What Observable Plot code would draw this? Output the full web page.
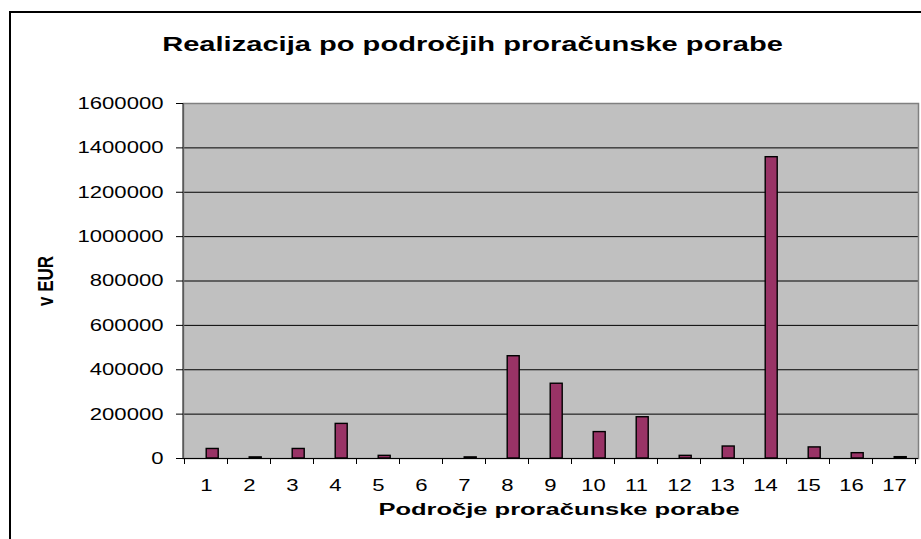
<!DOCTYPE html>
<html>
<head>
<meta charset="utf-8">
<script src="https://cdn.jsdelivr.net/npm/d3@7"></script>
<script src="https://cdn.jsdelivr.net/npm/@observablehq/plot@0.6"></script>
<style>
  html, body { margin: 0; padding: 0; background: #fff; overflow: hidden; }
  #wrap { position: relative; width: 921px; height: 539px; overflow: hidden; }
  #border { position: absolute; left: 9px; top: 11px; width: 1000px; height: 1000px; border: 2.5px solid #000; box-sizing: border-box; pointer-events: none; }
</style>
</head>
<body>
<div id="wrap"><div id="chart"></div><div id="border"></div></div>
<script>
const categories = ["1","2","3","4","5","6","7","8","9","10","11","12","13","14","15","16","17"];
const values = [43000, 5000, 43000, 156000, 12000, 0, 5000, 461000, 337000, 119000, 186000, 12000, 54000, 1358000, 50000, 24000, 6000];
const yTicks = [0, 200000, 400000, 600000, 800000, 1000000, 1200000, 1400000, 1600000];
const titleText = "Realizacija po področjih proračunske porabe";
const xTitle = "Področje proračunske porabe";
const yTitle = "v EUR";

const data = categories.map((c, i) => ({cat: c, value: values[i]}));
const gridTicks = yTicks.filter(t => t > 0 && t < d3.max(yTicks));

// boundary ticks between categories, derived from the band scale
function boundaryTicks(index, scales, values, dims) {
  const x = scales.x;
  const bw = typeof x.bandwidth === "function" ? x.bandwidth() : x.bandwidth;
  const step = x(categories[1]) - x(categories[0]);
  const off = (step - bw) / 2;
  const g = d3.create("svg:g").attr("stroke", "#000").attr("stroke-width", 1);
  const y0 = dims.height - dims.marginBottom;
  const xs = categories.map(c => x(c) - off);
  xs.push(x(categories[categories.length - 1]) - off + step);
  for (const xx of xs) {
    if (!isFinite(xx)) continue;
    g.append("line").attr("x1", xx).attr("x2", xx).attr("y1", y0).attr("y2", y0 + 6);
  }
  return g.node();
}
function leftAxisLine(index, scales, values, dims) {
  const g = d3.create("svg:g");
  const xx = dims.marginLeft;
  g.append("line").attr("x1", xx).attr("x2", xx)
    .attr("y1", dims.marginTop).attr("y2", dims.height - dims.marginBottom)
    .attr("stroke", "#404040").attr("stroke-width", 1.2);
  return g.node();
}

const chart = Plot.plot({
  width: 921,
  height: 539,
  marginLeft: 183,
  marginRight: 3,
  marginTop: 103,
  marginBottom: 81,
  style: {fontFamily: "'Liberation Sans', Arial, sans-serif", fontSize: "17px", background: "transparent", color: "#000"},
  x: {type: "band", domain: categories, paddingInner: 0.716, paddingOuter: 0.358, label: null},
  y: {domain: [0, d3.max(yTicks)], label: null},
  marks: [
    Plot.frame({fill: "#c0c0c0", stroke: null}),
    Plot.ruleY(gridTicks, {stroke: "#000", strokeWidth: 1}),
    Plot.frame({stroke: "#808080", strokeWidth: 1.5}),
    Plot.barY(data, {x: "cat", y: "value", fill: "#993366", stroke: "#000", strokeWidth: 1.4, dx: 6.2}),
    Plot.ruleY([0], {stroke: "#000", strokeWidth: 1.2}),
    leftAxisLine,
    boundaryTicks,
    Plot.axisY({ticks: yTicks, tickSize: 7, tickPadding: 13, tickFormat: d => String(d), fontSize: 17, stroke: "#000", strokeWidth: 1}),
    Plot.axisX({tickSize: 0, tickPadding: 20, fontSize: 17}),
    Plot.text([titleText], {frameAnchor: "top", textAnchor: "middle", dx: -78.5, dy: -59.5, fontSize: 20.5, fontWeight: "bold", lineAnchor: "middle"}),
    Plot.text([yTitle], {frameAnchor: "left", textAnchor: "middle", dx: -136, rotate: -90, fontSize: 17, fontWeight: "bold", lineAnchor: "middle"}),
    Plot.text([xTitle], {frameAnchor: "bottom", textAnchor: "middle", dx: 8, dy: 51, fontSize: 17, fontWeight: "bold", lineAnchor: "middle"})
  ]
});
document.getElementById("chart").appendChild(chart);

// The reference chart is horizontally stretched; emulate by scaling text horizontally about its anchor.
function px(v, fs) {
  if (!v) return 0;
  const n = parseFloat(v);
  if (isNaN(n)) return 0;
  return /em$/.test(v) ? n * fs : n;
}
function stretchText(t, s, rotated) {
  const fs = parseFloat(getComputedStyle(t).fontSize) || 17;
  const X = px(t.getAttribute("x"), fs), Y = px(t.getAttribute("y"), fs);
  const T = t.getAttribute("transform") || "";
  const sc = rotated ? `scale(1,${s})` : `scale(${s},1)`;
  t.setAttribute("transform", `${T} translate(${X},${Y}) ${sc} translate(${-X},${-Y})`);
}
chart.querySelectorAll("text").forEach(t => {
  const s = t.textContent;
  if (s === titleText) stretchText(t, 1.42, false);
  else if (s === xTitle) stretchText(t, 1.5, false);
  else if (s === yTitle) stretchText(t, 1.3, true);
  else stretchText(t, 1.3, false);
});
</script>
</body>
</html>
